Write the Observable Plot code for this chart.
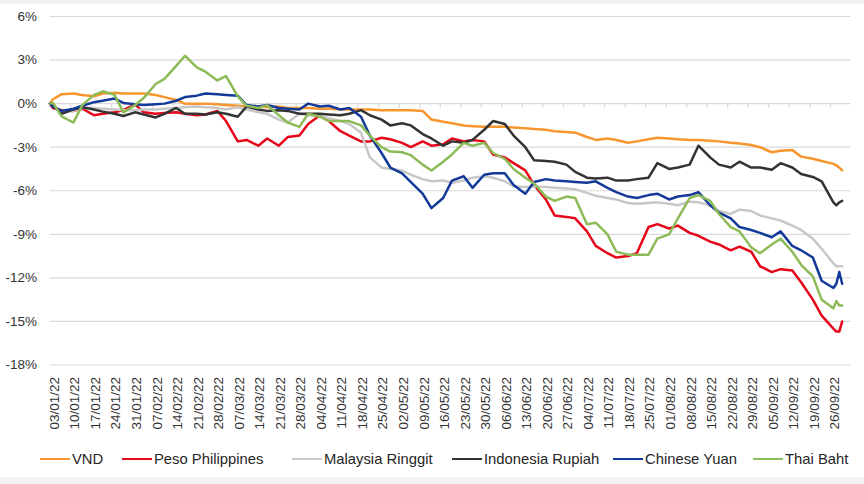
<!DOCTYPE html>
<html>
<head>
<meta charset="utf-8">
<script src="https://cdn.jsdelivr.net/npm/d3@7"></script>
<script src="https://cdn.jsdelivr.net/npm/@observablehq/plot@0.6"></script>
<style>
  html, body { margin: 0; padding: 0; background: #ffffff; }
  #wrap { position: relative; width: 864px; height: 484px; overflow: hidden; font-family: "Liberation Sans", Arial, sans-serif; }
  #topband { position: absolute; left: 0; top: 0; width: 864px; height: 4px; background: #f1f1f1; }
  #botband { position: absolute; left: 0; top: 477px; width: 864px; height: 7px; background: #f3f3f3; }
  #chart { position: absolute; left: 0; top: 0; }
  .leg { position: absolute; top: 449px; height: 20px; display: flex; align-items: center; font-size: 14.8px; color: #262626; white-space: nowrap; }
  .leg span.sw { display: inline-block; width: 30px; height: 2.6px; margin-right: 2px; }
</style>
</head>
<body>
<div id="wrap">
  <div id="topband"></div>
  <div id="botband"></div>
  <div id="chart"></div>
  <div id="legend"></div>
</div>
<script>
const seriesNames = ["VND", "Peso Philippines", "Malaysia Ringgit", "Indonesia Rupiah", "Chinese Yuan", "Thai Baht"];
const seriesColors = ["#F7962F", "#E5061A", "#C8C8C8", "#333333", "#143A99", "#8DBB57"];
const legendLeft = [40, 122, 292, 452, 613, 753];

const yTicks = [-18, -15, -12, -9, -6, -3, 0, 3, 6];

const weekTicks = ["2022-01-03","2022-01-10","2022-01-17","2022-01-24","2022-01-31","2022-02-07","2022-02-14","2022-02-21","2022-02-28",
  "2022-03-07","2022-03-14","2022-03-21","2022-03-28","2022-04-04","2022-04-11","2022-04-18","2022-04-25","2022-05-02","2022-05-09",
  "2022-05-16","2022-05-23","2022-05-30","2022-06-06","2022-06-13","2022-06-20","2022-06-27","2022-07-04","2022-07-11","2022-07-18",
  "2022-07-25","2022-08-01","2022-08-08","2022-08-15","2022-08-22","2022-08-29","2022-09-05","2022-09-12","2022-09-19","2022-09-26"];

const dates = ["2022-01-03",
  "2022-01-04","2022-01-07","2022-01-11","2022-01-14","2022-01-18","2022-01-21","2022-01-25","2022-01-28",
  "2022-02-01","2022-02-04","2022-02-08","2022-02-11","2022-02-15","2022-02-18","2022-02-22","2022-02-25",
  "2022-03-01","2022-03-04","2022-03-08","2022-03-11","2022-03-15","2022-03-18","2022-03-22","2022-03-25",
  "2022-03-29","2022-04-01","2022-04-05","2022-04-08","2022-04-12","2022-04-15","2022-04-19","2022-04-22",
  "2022-04-26","2022-04-29","2022-05-03","2022-05-06","2022-05-10","2022-05-13","2022-05-17","2022-05-20",
  "2022-05-24","2022-05-27","2022-05-31","2022-06-03","2022-06-07","2022-06-10","2022-06-14","2022-06-17",
  "2022-06-21","2022-06-24","2022-06-28","2022-07-01","2022-07-05","2022-07-08","2022-07-12","2022-07-15",
  "2022-07-19","2022-07-22","2022-07-26","2022-07-29","2022-08-02","2022-08-05","2022-08-09","2022-08-12",
  "2022-08-16","2022-08-19","2022-08-23","2022-08-26","2022-08-30","2022-09-02","2022-09-06","2022-09-09",
  "2022-09-13","2022-09-16","2022-09-20","2022-09-23","2022-09-27","2022-09-28","2022-09-29","2022-09-30"];

const vnd = [0,
  0.3, 0.65, 0.7, 0.6, 0.5, 0.7, 0.75, 0.7, 0.7, 0.7, 0.6, 0.45, 0.25, 0.0, 0.0, 0.0, -0.05, -0.1, -0.15, -0.2,
  -0.2, -0.25, -0.2, -0.3, -0.3, -0.3, -0.35, -0.35, -0.4, -0.4, -0.4, -0.4, -0.45, -0.45, -0.45, -0.45, -0.5, -1.1, -1.25, -1.35,
  -1.5, -1.55, -1.6, -1.6, -1.6, -1.65, -1.7, -1.75, -1.8, -1.9, -1.95, -2.0, -2.3, -2.5, -2.4, -2.5, -2.7, -2.6, -2.45, -2.35,
  -2.4, -2.45, -2.5, -2.5, -2.55, -2.6, -2.7, -2.75, -2.85, -3.0, -3.35, -3.25, -3.2, -3.65, -3.8, -3.95,
  -4.15, -4.25, -4.4, -4.6];

const pesoPhilippines = [0,
  -0.3, -0.45, -0.5, -0.35, -0.8, -0.7, -0.6, -0.45, -0.05, -0.6, -0.7, -0.65, -0.6, -0.7, -0.8, -0.75, -0.5, -1.2, -2.6, -2.5,
  -2.9, -2.4, -2.9, -2.3, -2.2, -1.4, -0.8, -1.2, -1.9, -2.2, -2.6, -2.6, -2.35, -2.45, -2.7, -3.0, -2.6, -2.9, -2.8, -2.4,
  -2.6, -2.5, -2.6, -3.5, -3.7, -4.1, -4.6, -5.6, -6.6, -7.7, -7.8, -7.9, -8.8, -9.8, -10.3, -10.6, -10.5, -10.3, -8.5, -8.3,
  -8.6, -8.4, -8.9, -9.1, -9.5, -9.7, -10.1, -9.85, -10.2, -11.2, -11.6, -11.4, -11.5, -12.3, -13.5, -14.6,
  -15.5, -15.7, -15.7, -15.0];

const malaysiaRinggit = [0,
  -0.1, -0.6, -0.5, -0.3, -0.3, -0.35, -0.4, -0.45, -0.45, -0.4, -0.4, -0.35, -0.3, -0.25, -0.2, -0.25, -0.3, -0.4, -0.25, -0.4,
  -0.6, -0.7, -1.1, -1.3, -0.7, -0.8, -0.85, -1.0, -1.2, -1.4, -2.0, -3.7, -4.4, -4.5, -4.6, -4.9, -5.2, -5.35, -5.3, -5.45,
  -5.3, -5.1, -5.0, -5.1, -5.35, -5.7, -5.75, -5.7, -5.75, -5.8, -5.85, -5.9, -6.15, -6.35, -6.5, -6.6, -6.85, -6.9, -6.85, -6.8,
  -6.9, -7.0, -6.75, -6.8, -7.0, -7.4, -7.6, -7.3, -7.4, -7.7, -7.9, -8.05, -8.4, -8.7, -9.3, -10.0,
  -11.0, -11.2, -11.2, -11.2];

const indonesiaRupiah = [0,
  -0.1, -0.7, -0.4, -0.25, -0.4, -0.55, -0.7, -0.85, -0.6, -0.75, -0.95, -0.7, -0.3, -0.7, -0.7, -0.75, -0.6, -0.7, -0.9, -0.2,
  -0.4, -0.5, -0.45, -0.5, -0.7, -0.7, -0.7, -0.75, -0.8, -0.7, -0.45, -0.8, -1.1, -1.5, -1.35, -1.5, -2.1, -2.4, -2.9, -2.6,
  -2.7, -2.5, -1.8, -1.2, -1.4, -2.2, -3.0, -3.9, -3.95, -4.0, -4.2, -4.7, -5.1, -5.15, -5.1, -5.3, -5.3, -5.2, -5.1, -4.1,
  -4.5, -4.4, -4.2, -2.9, -3.7, -4.2, -4.4, -4.0, -4.4, -4.4, -4.55, -4.1, -4.4, -4.85, -5.05, -5.35,
  -6.8, -7.0, -6.8, -6.7];

const chineseYuan = [0,
  -0.2, -0.5, -0.35, -0.15, 0.1, 0.2, 0.35, 0.05, -0.05, -0.1, -0.05, 0.0, 0.2, 0.45, 0.55, 0.7, 0.65, 0.6, 0.55, -0.1,
  -0.2, -0.1, -0.3, -0.35, -0.4, 0.0, -0.2, -0.15, -0.4, -0.3, -0.9, -2.2, -3.4, -4.4, -4.8, -5.4, -6.2, -7.2, -6.5, -5.3,
  -5.0, -5.8, -4.9, -4.8, -4.8, -5.6, -6.2, -5.4, -5.2, -5.3, -5.35, -5.4, -5.45, -5.35, -5.8, -6.1, -6.4, -6.5, -6.3, -6.2,
  -6.6, -6.4, -6.3, -6.1, -7.0, -7.5, -7.9, -8.5, -8.7, -8.9, -9.2, -8.8, -9.8, -10.1, -10.6, -12.2,
  -12.7, -12.4, -11.6, -12.4];

const thaiBaht = [0,
  0.05, -0.9, -1.3, -0.1, 0.6, 0.85, 0.6, -0.6, -0.1, 0.4, 1.35, 1.7, 2.6, 3.3, 2.5, 2.2, 1.6, 1.9, 0.5, -0.15,
  -0.3, -0.1, -0.8, -1.3, -1.6, -0.7, -0.9, -1.2, -1.2, -1.2, -1.5, -2.2, -3.0, -3.3, -3.35, -3.55, -4.2, -4.6, -4.0, -3.5,
  -2.7, -2.9, -2.7, -3.4, -3.8, -4.5, -5.1, -5.5, -6.4, -6.7, -6.4, -6.5, -8.3, -8.2, -9.0, -10.2, -10.4, -10.4, -10.4, -9.3,
  -9.0, -7.9, -6.5, -6.3, -6.7, -7.6, -8.5, -8.8, -9.9, -10.3, -9.7, -9.3, -10.2, -11.1, -11.9, -13.5,
  -14.1, -13.6, -13.9, -13.9];

const seriesValues = [vnd, pesoPhilippines, malaysiaRinggit, indonesiaRupiah, chineseYuan, thaiBaht];

const rows = [];
seriesNames.forEach((name, s) => {
  dates.forEach((d, i) => rows.push({series: name, date: new Date(d + "T00:00:00Z"), value: seriesValues[s][i]}));
});
const weekDates = weekTicks.map(d => new Date(d + "T00:00:00Z"));
const fmtDate = d3.utcFormat("%d/%m/%y");

const chart = Plot.plot({
  width: 864,
  height: 440,
  marginLeft: 49.5,
  marginRight: 13.5,
  marginTop: 16,
  marginBottom: 75.5,
  style: {fontFamily: "'Liberation Sans', Arial, sans-serif", fontSize: "13.5px", color: "#333333", background: "transparent", overflow: "visible"},
  x: {type: "utc", domain: [new Date("2022-01-03T00:00:00Z"), new Date("2022-10-03T00:00:00Z")], label: null},
  y: {domain: [-18, 6], label: null},
  color: {domain: seriesNames, range: seriesColors},
  marks: [
    Plot.ruleY(yTicks, {stroke: "#d9d9d9", strokeWidth: 1.2}),
    Plot.ruleX(weekDates, {x: d => d, y1: 0, y2: -0.32, stroke: "#d9d9d9", strokeWidth: 1.2}),
    Plot.axisY(yTicks, {tickFormat: d => d + "%", tickSize: 0, tickPadding: 13, fontSize: 13.5, label: null}),
    Plot.axisX(weekDates, {tickFormat: fmtDate, tickRotate: -90, tickSize: 0, tickPadding: 12, dx: 4.5, fontSize: 13.5, label: null}),
    Plot.line(rows, {x: "date", y: "value", z: "series", stroke: "series", strokeWidth: 2.5, strokeLinejoin: "round", curve: "linear"})
  ]
});
document.getElementById("chart").appendChild(chart);

const legend = document.getElementById("legend");
seriesNames.forEach((name, i) => {
  const item = document.createElement("div");
  item.className = "leg";
  item.style.left = legendLeft[i] + "px";
  const sw = document.createElement("span");
  sw.className = "sw";
  sw.style.background = seriesColors[i];
  const tx = document.createElement("span");
  tx.textContent = name;
  item.appendChild(sw);
  item.appendChild(tx);
  legend.appendChild(item);
});
</script>
</body>
</html>
